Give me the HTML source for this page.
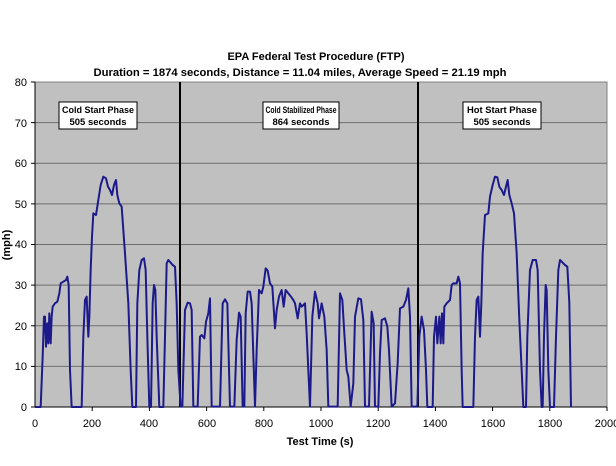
<!DOCTYPE html>
<html><head><style>
body{margin:0;background:#fff;}
svg{display:block;font-family:"Liberation Sans",Arial,sans-serif;}
</style></head><body>
<svg width="616" height="466" viewBox="0 0 616 466">
<rect x="0" y="0" width="616" height="466" fill="#fff"/>
<text x="316" y="60" text-anchor="middle" font-size="11" font-weight="bold">EPA Federal Test Procedure (FTP)</text>
<text x="300" y="76" text-anchor="middle" font-size="11" font-weight="bold" textLength="413" lengthAdjust="spacingAndGlyphs">Duration = 1874 seconds, Distance = 11.04 miles, Average Speed = 21.19 mph</text>
<rect x="35" y="82" width="572" height="325" fill="#c0c0c0" stroke="#808080" stroke-width="1"/>
<g stroke="#6e6e6e" stroke-width="1">
<line x1="35" y1="122.6" x2="607" y2="122.6"/>
<line x1="35" y1="163.3" x2="607" y2="163.3"/>
<line x1="35" y1="203.9" x2="607" y2="203.9"/>
<line x1="35" y1="244.5" x2="607" y2="244.5"/>
<line x1="35" y1="285.1" x2="607" y2="285.1"/>
<line x1="35" y1="325.8" x2="607" y2="325.8"/>
<line x1="35" y1="366.4" x2="607" y2="366.4"/>
</g>
<g stroke="#000" stroke-width="1">
<line x1="35" y1="82" x2="35" y2="407"/><line x1="35" y1="407" x2="607" y2="407"/>
<line x1="31" y1="82" x2="35" y2="82"/><line x1="31" y1="122.6" x2="35" y2="122.6"/><line x1="31" y1="163.3" x2="35" y2="163.3"/><line x1="31" y1="203.9" x2="35" y2="203.9"/><line x1="31" y1="244.5" x2="35" y2="244.5"/><line x1="31" y1="285.1" x2="35" y2="285.1"/><line x1="31" y1="325.8" x2="35" y2="325.8"/><line x1="31" y1="366.4" x2="35" y2="366.4"/><line x1="31" y1="407" x2="35" y2="407"/>
<line x1="92.2" y1="407" x2="92.2" y2="411"/><line x1="149.4" y1="407" x2="149.4" y2="411"/><line x1="206.6" y1="407" x2="206.6" y2="411"/><line x1="263.8" y1="407" x2="263.8" y2="411"/><line x1="321" y1="407" x2="321" y2="411"/><line x1="378.2" y1="407" x2="378.2" y2="411"/><line x1="435.4" y1="407" x2="435.4" y2="411"/><line x1="492.6" y1="407" x2="492.6" y2="411"/><line x1="549.8" y1="407" x2="549.8" y2="411"/><line x1="607" y1="407" x2="607" y2="411"/>
</g>
<g font-size="11" text-anchor="end">
<text x="27" y="86">80</text><text x="27" y="127">70</text><text x="27" y="167">60</text><text x="27" y="208">50</text><text x="27" y="248">40</text><text x="27" y="289">30</text><text x="27" y="330">20</text><text x="27" y="370">10</text><text x="27" y="411">0</text>
</g>
<g font-size="11" text-anchor="middle">
<text x="35" y="427">0</text><text x="92" y="427">200</text><text x="149" y="427">400</text><text x="207" y="427">600</text><text x="264" y="427">800</text><text x="321" y="427">1000</text><text x="378" y="427">1200</text><text x="435" y="427">1400</text><text x="493" y="427">1600</text><text x="550" y="427">1800</text><text x="607" y="427">2000</text>
</g>
<text x="320" y="445" text-anchor="middle" font-size="11" font-weight="bold">Test Time (s)</text>
<text transform="translate(10,245) rotate(-90)" text-anchor="middle" font-size="11" font-weight="bold">(mph)</text>
<line x1="180" y1="82" x2="180" y2="407" stroke="#000" stroke-width="2"/>
<line x1="418" y1="82" x2="418" y2="407" stroke="#000" stroke-width="2"/>
<g fill="none" stroke="#1c1a8a" stroke-width="2" stroke-linejoin="round">
<polyline vector-effect="non-scaling-stroke" transform="translate(30,170) scale(0.33333)" points="15,711 32,711 38,560 42,440 45,440 48,530 52,460 55,520 58,430 62,520 65,440 68,410 75,400 82,395 88,370 92,340 100,335 108,330 112,320 116,345 120,600 125,711 155,711 160,500 165,390 170,380 175,500 178,440 182,300 186,200 190,130 198,135 205,90 212,45 220,20 228,25 234,50 240,60 246,75 252,45 258,30 262,75 268,100 275,110 285,250 295,400 302,600 307,711 318,711 322,400 328,300 335,270 342,265 347,300 352,500 358,711 363,711 368,400 372,345 376,360 380,500 388,711 400,711 405,500 410,280 415,270 422,278 428,285 435,290 440,400 445,600 452,711"/>
<polyline vector-effect="non-scaling-stroke" transform="translate(175,250) scale(0.33333)" points="15,470 22,470 30,180 38,158 45,160 50,180 55,470 68,470 75,260 80,255 88,265 93,215 100,190 105,145 110,470 135,470 143,160 150,148 157,160 165,470 178,470 185,270 192,188 197,200 203,470 208,470 212,190 218,125 225,125 230,160 240,470 245,300 252,120 260,130 265,110 272,55 278,62 285,100 292,110 300,235 305,180 312,140 320,120 326,170 332,120 340,130 348,140 355,150 360,160 368,205 375,160 380,170 390,160 395,250 405,470 412,200 420,125 428,160 432,205 440,160 448,200 455,300 460,470 488,470 495,130 502,150 508,250 515,360 520,380 527,470 535,400 540,200 550,145 558,148 565,210 570,470 582,470 590,185 596,220 600,470 610,470 615,310 620,210 630,205 637,230 642,300 650,470 660,460 668,340 675,175 685,170 693,150 700,115 705,200 710,470 730,470"/>
<polyline vector-effect="non-scaling-stroke" transform="translate(410,170) scale(0.33333)" points="22,711 28,500 35,440 42,480 48,600 52,711 68,711 72,500 78,440 82,520 88,440 92,520 96,430 100,520 103,410 110,400 120,390 125,345 130,340 140,340 145,320 150,340 155,600 158,711 190,711 195,500 200,390 205,380 210,500 214,400 218,250 225,135 235,130 240,80 248,45 255,20 262,22 268,50 275,60 282,75 288,50 293,30 298,75 305,100 312,130 320,250 328,450 335,600 340,711 348,711 352,500 360,300 368,270 378,270 383,300 390,600 395,711 398,711 402,500 407,345 410,360 415,600 420,711 432,711 438,500 445,300 450,270 458,278 465,285 472,290 478,400 483,711"/>
</g>
<g font-size="9.5" font-weight="bold" text-anchor="middle">
<rect x="59" y="102" width="78" height="27" fill="#fff" stroke="#000"/>
<text x="98" y="113" textLength="72" lengthAdjust="spacingAndGlyphs">Cold Start Phase</text><text x="98" y="125">505 seconds</text>
<rect x="263" y="102" width="76" height="27" fill="#fff" stroke="#000"/>
<text x="301" y="113" textLength="71" lengthAdjust="spacingAndGlyphs">Cold Stabilized Phase</text><text x="301" y="125">864 seconds</text>
<rect x="463" y="102" width="78" height="27" fill="#fff" stroke="#000"/>
<text x="502" y="113" textLength="70" lengthAdjust="spacingAndGlyphs">Hot Start Phase</text><text x="502" y="125">505 seconds</text>
</g>
</svg>
</body></html>
